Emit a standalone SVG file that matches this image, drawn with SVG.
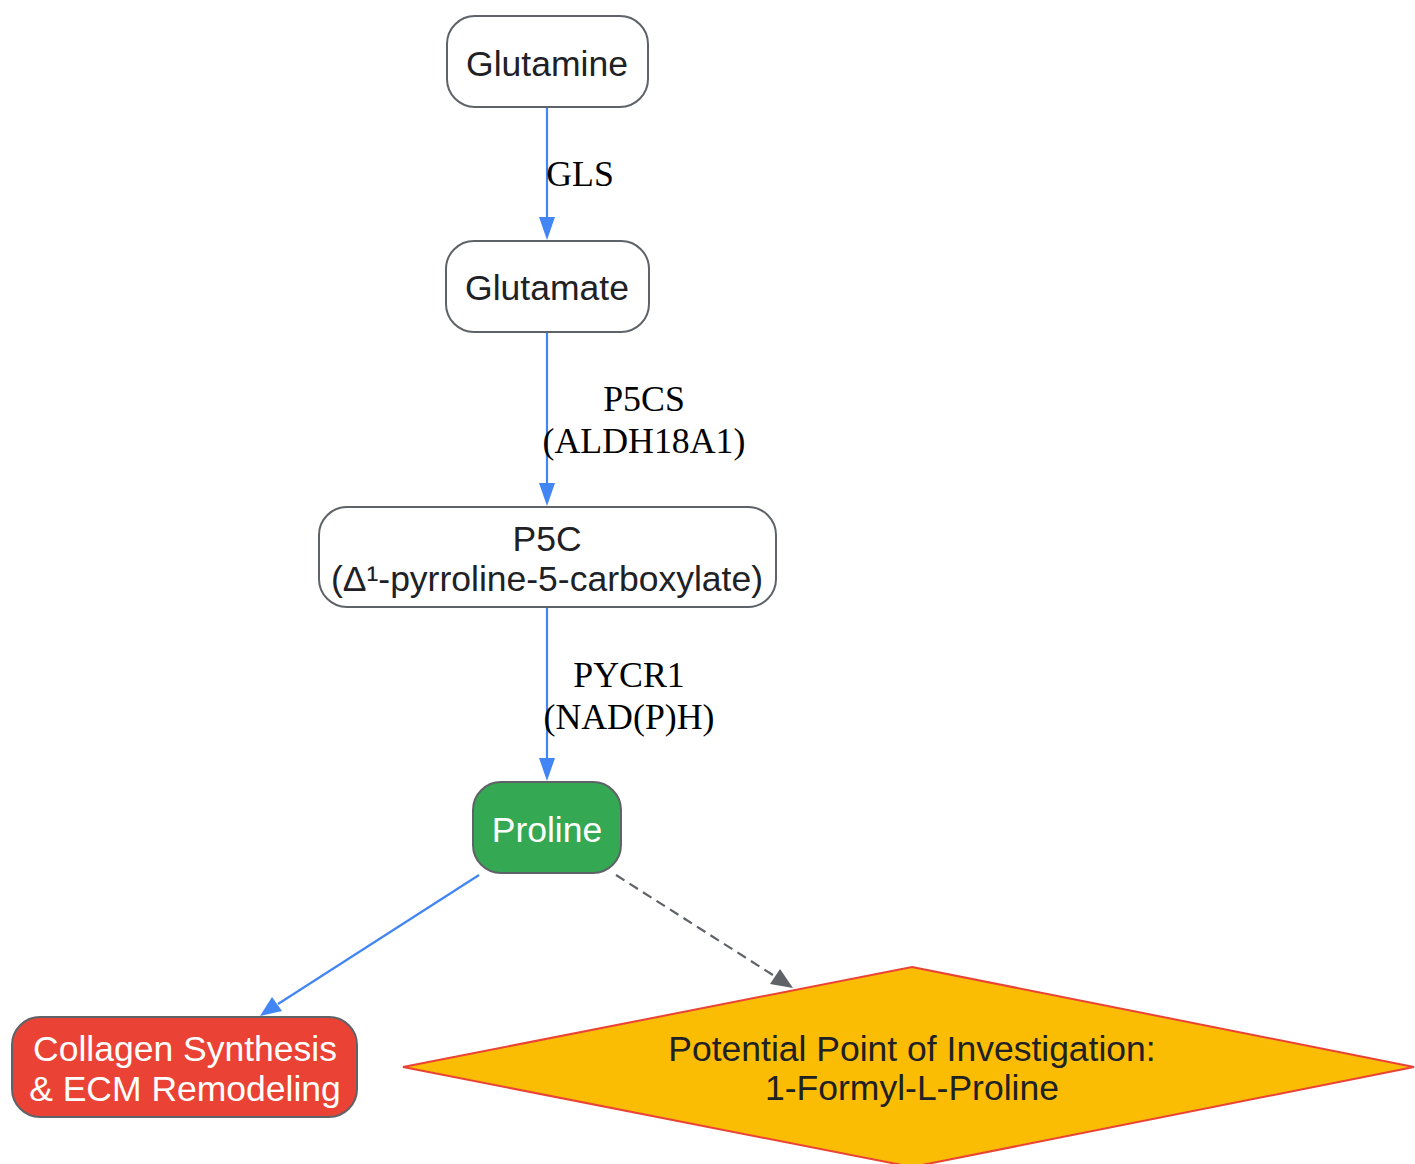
<svg xmlns="http://www.w3.org/2000/svg" width="1415" height="1164" viewBox="0 0 1415 1164">
<style>
.node{stroke:#5f6368;stroke-width:2}
.nt{font-family:"Liberation Sans",Arial,sans-serif;font-size:35.5px;text-anchor:middle;fill:#202124}
.lbl{font-family:"Liberation Serif","Times New Roman",serif;font-size:35.8px;text-anchor:middle;fill:#000}
.e{fill:none;stroke:#4285f4;stroke-width:2.2}
.d{fill:none;stroke:#5f6368;stroke-width:2.2;stroke-dasharray:10,6}
</style>
<rect width="1415" height="1164" fill="#fff"/>
<g id="connectors">
<path class="e" d="M547,107 L547,218"/><path d="M539,217 L547,240 L555,217 z" fill="#4285f4"/>
<path class="e" d="M547,332 L547,484"/><path d="M539,483 L547,506 L555,483 z" fill="#4285f4"/>
<path class="e" d="M547,607 L547,759"/><path d="M539,758 L547,781 L555,758 z" fill="#4285f4"/>
<path class="e" d="M479,875 L278,1004"/><path d="M272,997 L260,1016 L282,1011 z" fill="#4285f4"/>
<path class="d" d="M616,875 L776,977"/><path d="M770,984 L793,988 L780,969 z" fill="#5f6368"/>
<text class="lbl" x="580" y="186">GLS</text>
<text class="lbl" x="644" y="411">P5CS</text>
<text class="lbl" x="644" y="453">(ALDH18A1)</text>
<text class="lbl" x="629" y="687">PYCR1</text>
<text class="lbl" x="629" y="729">(NAD(P)H)</text>
</g>
<g id="glutamine"><rect class="node" x="447" y="16" width="201" height="91" rx="28" fill="#fff"/><text class="nt" x="547" y="76">Glutamine</text></g>
<g id="glutamate"><rect class="node" x="446" y="241" width="203" height="91" rx="28" fill="#fff"/><text class="nt" x="547" y="300">Glutamate</text></g>
<g id="p5c"><rect class="node" x="319" y="507" width="457" height="100" rx="28" fill="#fff"/><text class="nt" x="547" y="551">P5C</text><text class="nt" x="547" y="591">(Δ¹-pyrroline-5-carboxylate)</text></g>
<g id="proline"><rect class="node" x="473" y="782" width="148" height="91" rx="28" fill="#34a853"/><text class="nt" x="547" y="842" style="fill:#fff">Proline</text></g>
<g id="collagen"><rect class="node" x="12" y="1017" width="345" height="100" rx="28" fill="#ea4335"/><text class="nt" x="185" y="1061" style="fill:#fff">Collagen Synthesis</text><text class="nt" x="185" y="1101" style="fill:#fff">&amp; ECM Remodeling</text></g>
<g id="investigation"><polygon points="912,967 1414,1067 912,1167 403,1067" fill="#fbbc04" stroke="#ea4335" stroke-width="2"/><text class="nt" x="912" y="1061">Potential Point of Investigation:</text><text class="nt" x="912" y="1100">1-Formyl-L-Proline</text></g>
</svg>
